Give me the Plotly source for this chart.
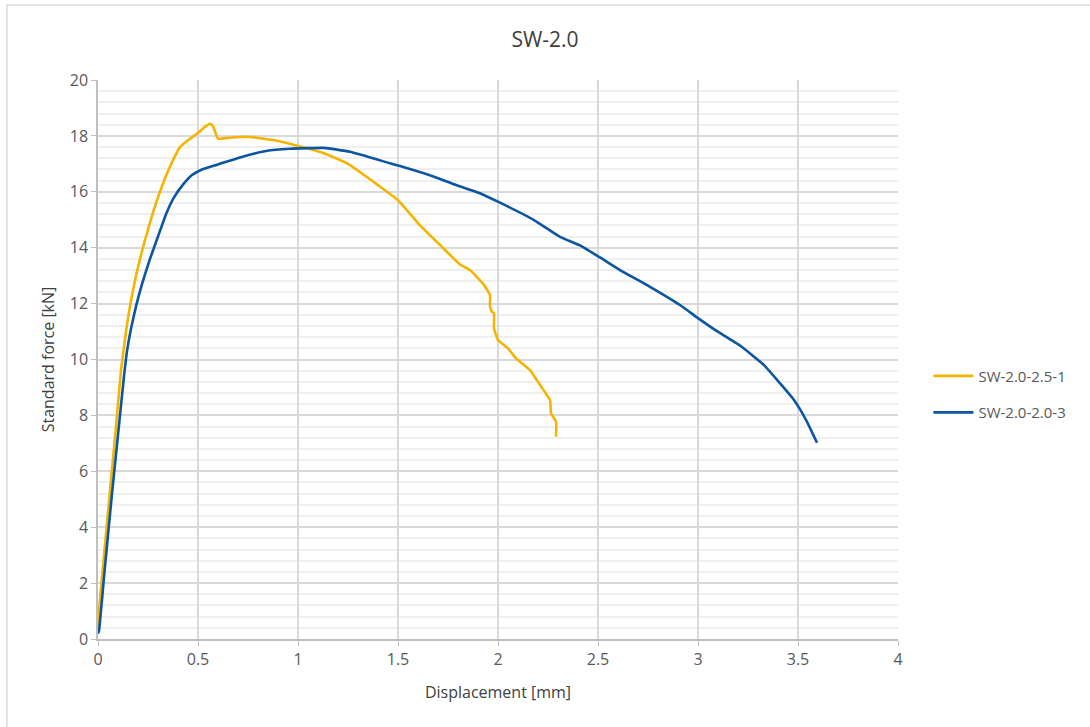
import plotly.graph_objects as go

# Force-displacement curves for the two SW-2.0 specimens
disp_a = [0.0, 0.005, 0.03, 0.06, 0.09, 0.115, 0.14, 0.17, 0.21, 0.26, 0.31, 0.36, 0.41, 0.46, 0.50,
          0.53, 0.56, 0.575, 0.60, 0.65, 0.74, 0.875, 1.0, 1.13, 1.25, 1.4, 1.5, 1.61, 1.71, 1.81,
          1.86, 1.93, 1.96, 1.96, 1.97, 1.98, 1.98, 2.0, 2.05, 2.09, 2.16, 2.21, 2.26, 2.265, 2.29, 2.29]
force_a = [0.3, 1.0, 3.0, 5.3, 7.6, 9.6, 11.0, 12.3, 13.6, 14.9, 16.0, 16.9, 17.6, 17.9, 18.1,
           18.3, 18.43, 18.35, 17.9, 17.93, 17.97, 17.85, 17.64, 17.38, 17.0, 16.24, 15.7, 14.8, 14.1, 13.4,
           13.2, 12.67, 12.3, 11.9, 11.7, 11.66, 11.12, 10.7, 10.4, 10.04, 9.62, 9.09, 8.55, 8.07, 7.78, 7.24]

disp_b = [0.0, 0.005, 0.035, 0.07, 0.10, 0.13, 0.145, 0.165, 0.19, 0.22, 0.26, 0.30, 0.34, 0.38, 0.43, 0.47,
          0.52, 0.60, 0.71, 0.84, 0.96, 1.13, 1.26, 1.46, 1.51, 1.68, 1.79, 1.91, 2.01, 2.18, 2.31,
          2.41, 2.51, 2.61, 2.76, 2.91, 3.0, 3.085, 3.21, 3.33, 3.41, 3.48, 3.54, 3.595]
force_b = [0.2, 0.3, 2.6, 5.2, 7.3, 9.4, 10.3, 11.1, 11.9, 12.7, 13.6, 14.4, 15.2, 15.8, 16.3, 16.6,
           16.8, 16.98, 17.23, 17.46, 17.54, 17.57, 17.43, 17.02, 16.92, 16.54, 16.24, 15.95, 15.61, 14.99, 14.39,
           14.08, 13.65, 13.2, 12.6, 11.95, 11.48, 11.06, 10.5, 9.8, 9.15, 8.55, 7.84, 7.02]

series_names = ["SW-2.0-2.5-1", "SW-2.0-2.0-3"]
series_colors = ["#F4B400", "#0B55A3"]

x_ticks = [0, 0.5, 1, 1.5, 2, 2.5, 3, 3.5, 4]
x_tick_text = ["0", "0.5", "1", "1.5", "2", "2.5", "3", "3.5", "4"]
y_ticks = [0, 2, 4, 6, 8, 10, 12, 14, 16, 18, 20]

FONT = "Open Sans, Segoe UI, sans-serif"
TXT = "#595959"

fig = go.Figure()
for i, (xs, ys, name, color) in enumerate(zip([disp_a, disp_b], [force_a, force_b], series_names, series_colors)):
    fig.add_trace(go.Scatter(
        x=xs, y=ys, mode="lines", name=name, legendgroup=f"g{i}",
        line=dict(color=color, width=2.6, shape="spline", smoothing=0.4),
    ))

fig.update_layout(
    width=1090, height=727,
    margin=dict(l=98, r=192, t=80, b=88),
    paper_bgcolor="white", plot_bgcolor="white",
    font=dict(family=FONT, color=TXT, size=15),
    title=dict(text="SW-2.0", x=0.5, xref="container", xanchor="center", y=0.945, yanchor="middle",
               font=dict(size=21, color="#404040", family=FONT)),
    legend=dict(x=1.038, y=0.438, xanchor="left", yanchor="middle",
                font=dict(size=15, color=TXT, family=FONT),
                bgcolor="rgba(0,0,0,0)", tracegroupgap=14, itemwidth=40),
    showlegend=True,
)

fig.update_xaxes(
    range=[0, 4], tickvals=x_ticks, ticktext=x_tick_text,
    showgrid=True, gridcolor="#d9d9d9", gridwidth=1.5,
    showline=True, linecolor="#bfbfbf", linewidth=1.5,
    ticks="outside", ticklen=5, tickcolor="#bfbfbf",
    zeroline=False,
    title=dict(text="Displacement [mm]", font=dict(size=16, color="#404040", family=FONT), standoff=18),
    tickfont=dict(size=16, color=TXT),
)
fig.update_yaxes(
    range=[0, 20], tickvals=y_ticks,
    showgrid=True, gridcolor="#d9d9d9", gridwidth=1.5,
    minor=dict(dtick=0.4, showgrid=True, gridcolor="#efefef", gridwidth=1.5, ticks=""),
    showline=True, linecolor="#bfbfbf", linewidth=1.5,
    ticks="outside", ticklen=5, tickcolor="#bfbfbf",
    zeroline=False,
    title=dict(text="Standard force [kN]", font=dict(size=16, color="#404040", family=FONT), standoff=11),
    tickfont=dict(size=16, color=TXT),
)

# Outer chart frame
fig.add_shape(type="rect", xref="paper", yref="paper",
              x0=-0.11375, y0=-0.3, x1=1.4, y1=1.1342,
              line=dict(color="#d9d9d9", width=1.5), fillcolor="rgba(0,0,0,0)", layer="below")

fig.write_html("out.html")
